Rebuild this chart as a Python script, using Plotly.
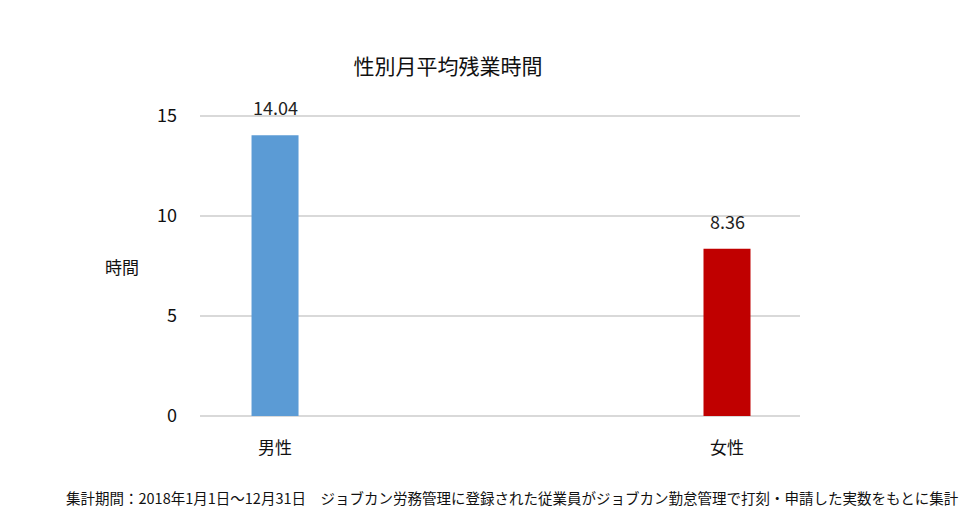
import plotly.graph_objects as go

categories = ["男性", "女性"]
values = [14.04, 8.36]
colors = ["#5b9bd5", "#c00000"]
value_labels = ["14.04", "8.36"]
y_ticks = [0, 5, 10, 15]

FONT = "Noto Sans CJK JP"

fig = go.Figure()
fig.add_trace(go.Bar(
    x=categories, y=values, marker=dict(color=colors, line=dict(width=0)),
    width=0.104, hoverinfo="skip",
))

for c, v, t in zip(categories, values, value_labels):
    fig.add_annotation(x=c, y=v, text=t, showarrow=False, yanchor="bottom",
                       yshift=13, font=dict(family=FONT, size=18, color="#222"))

fig.add_annotation(xref="paper", yref="paper", x=-0.13, y=0.49, text="時間",
                   showarrow=False, xanchor="center", yanchor="middle",
                   font=dict(family=FONT, size=17, color="#111"))

fig.add_annotation(xref="paper", yref="paper", x=0.52, y=-0.265,
                   text="集計期間：2018年1月1日～12月31日　ジョブカン労務管理に登録された従業員がジョブカン勤怠管理で打刻・申請した実数をもとに集計",
                   showarrow=False, xanchor="center", yanchor="middle",
                   font=dict(family=FONT, size=14.5, color="#111"))

fig.update_layout(
    width=971, height=518,
    margin=dict(l=200, r=171, t=110, b=102),
    paper_bgcolor="white", plot_bgcolor="white",
    title=dict(text="性別月平均残業時間", x=448 / 971, xanchor="center",
               y=1 - 67 / 518, yanchor="middle",
               font=dict(family=FONT, size=21, color="#111")),
    showlegend=False,
    xaxis=dict(type="category", range=[-0.166, 1.1615], showgrid=False,
               zeroline=False, showline=False, ticks="",
               ticklabelstandoff=20,
               tickfont=dict(family=FONT, size=17, color="#111")),
    yaxis=dict(range=[0, 15.3], tickvals=y_ticks, showgrid=True,
               gridcolor="#d9d9d9", gridwidth=1.5, zeroline=True,
               zerolinecolor="#d9d9d9", zerolinewidth=1.5, showline=False,
               ticks="", ticklabelstandoff=22,
               tickfont=dict(family=FONT, size=18, color="#111")),
)

fig.write_html("out.html")
